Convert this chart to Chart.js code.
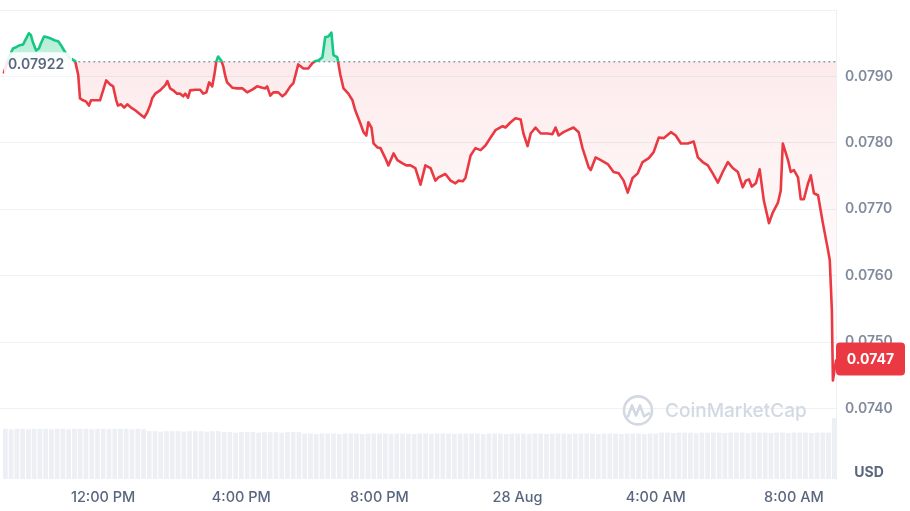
<!DOCTYPE html>
<html><head><meta charset="utf-8">
<script src="https://cdn.jsdelivr.net/npm/chart.js@4.4.0/dist/chart.umd.min.js"></script>
<style>html,body{margin:0;padding:0;background:#fff;}#wrap{width:910px;height:511px;position:relative;}</style>
</head><body><div id="wrap"><canvas id="c"></canvas></div>
<script>
// time in hours since 27 Aug 00:00
const times = [
9.13,9.28,9.39,9.48,9.59,9.68,9.77,9.85,9.91,9.97,
10.06,10.14,10.20,10.29,10.38,10.49,10.61,10.70,10.78,10.87,
11.01,11.19,11.28,11.33,11.42,11.51,11.59,11.65,11.77,11.91,
12.00,12.09,12.20,12.29,12.38,12.43,12.52,12.61,12.70,12.81,
12.93,13.07,13.19,13.28,13.36,13.42,13.51,13.65,13.80,13.86,
13.94,14.03,14.14,14.23,14.32,14.38,14.46,14.52,14.67,14.81,
14.90,14.99,15.07,15.16,15.22,15.28,15.33,15.42,15.48,15.54,
15.59,15.74,15.88,16.03,16.17,16.32,16.46,16.61,16.70,16.75,
16.84,16.93,17.07,17.19,17.28,17.42,17.51,17.65,17.80,17.94,
18.06,18.14,18.23,18.35,18.43,18.52,18.61,18.67,18.78,18.87,
18.96,19.10,19.22,19.30,19.45,19.54,19.62,19.68,19.77,19.83,
19.94,20.03,20.17,20.26,20.41,20.52,20.67,20.78,20.90,21.04,
21.19,21.33,21.48,21.62,21.71,21.91,22.06,22.20,22.29,22.41,
22.49,22.64,22.78,22.93,23.07,23.22,23.36,23.57,23.65,23.80,
23.94,24.09,24.17,24.29,24.38,24.52,24.67,24.87,25.01,25.10,
25.19,25.33,25.45,25.62,25.77,25.88,26.06,26.12,26.26,26.41,
26.61,26.78,26.93,27.07,27.19,27.33,27.48,27.62,27.80,27.94,
28.09,28.23,28.44,28.58,28.73,28.93,29.10,29.22,29.36,29.51,
29.65,29.80,29.94,30.09,30.23,30.38,30.52,30.61,30.70,30.78,
30.90,31.01,31.13,31.28,31.39,31.54,31.62,31.68,31.83,31.91,
32.00,32.12,32.20,32.29,32.41,32.49,32.58,32.70,32.84,32.99,
33.04,33.10,33.13,33.22
];
const prices = [
0.07906,0.07930,0.07942,0.07944,0.07947,0.07948,0.07957,0.07965,0.07962,0.07951,
0.07939,0.07942,0.07950,0.07960,0.07959,0.07957,0.07954,0.07953,0.07947,0.07939,
0.07929,0.07923,0.07902,0.07867,0.07864,0.07862,0.07856,0.07864,0.07864,0.07864,
0.07879,0.07894,0.07888,0.07885,0.07864,0.07856,0.07858,0.07853,0.07858,0.07853,
0.07849,0.07843,0.07838,0.07846,0.07856,0.07867,0.07874,0.07879,0.07887,0.07893,
0.07882,0.07879,0.07874,0.07874,0.07870,0.07874,0.07868,0.07879,0.07880,0.07880,
0.07874,0.07876,0.07891,0.07885,0.07902,0.07923,0.07930,0.07924,0.07915,0.07900,
0.07891,0.07883,0.07882,0.07882,0.07876,0.07880,0.07885,0.07883,0.07882,0.07885,
0.07871,0.07876,0.07876,0.07870,0.07874,0.07885,0.07890,0.07918,0.07912,0.07912,
0.07920,0.07923,0.07924,0.07929,0.07959,0.07960,0.07966,0.07932,0.07929,0.07902,
0.07882,0.07874,0.07864,0.07849,0.07829,0.07816,0.07811,0.07831,0.07823,0.07799,
0.07793,0.07792,0.07777,0.07766,0.07784,0.07774,0.07769,0.07766,0.07766,0.07762,
0.07737,0.07766,0.07762,0.07743,0.07748,0.07753,0.07743,0.07739,0.07743,0.07742,
0.07747,0.07781,0.07792,0.07789,0.07796,0.07808,0.07819,0.07825,0.07823,0.07831,
0.07837,0.07835,0.07814,0.07795,0.07814,0.07823,0.07814,0.07814,0.07813,0.07823,
0.07811,0.07816,0.07819,0.07823,0.07816,0.07792,0.07763,0.07759,0.07778,0.07774,
0.07768,0.07756,0.07754,0.07743,0.07725,0.07747,0.07754,0.07771,0.07777,0.07786,
0.07808,0.07807,0.07816,0.07811,0.07799,0.07799,0.07802,0.07778,0.07771,0.07766,
0.07754,0.07740,0.07756,0.07771,0.07762,0.07756,0.07733,0.07743,0.07745,0.07734,
0.07739,0.07760,0.07713,0.07679,0.07695,0.07710,0.07728,0.07799,0.07774,0.07756,
0.07759,0.07748,0.07715,0.07715,0.07739,0.07751,0.07724,0.07721,0.07679,0.07638,
0.07623,0.07548,0.07442,0.07472
];
const baseline = 0.07922;
// volume bars: one every 10 minutes from 9:10
const volStart = 9.17, volStep = 1/6;
const volumes = [
1.07,1.06,1.07,1.07,1.06,1.07,1.07,1.07,1.06,1.07,1.07,1.06,1.07,1.07,1.07,1.06,1.07,1.07,1.06,1.07,1.07,1.07,1.06,1.07,1.06,
1.02,1.02,1.01,1.02,1.02,1.02,1.01,1.02,1.02,1.02,1.01,1.02,1.02,
1.00,1.00,0.99,1.00,1.00,1.00,0.99,1.00,1.00,1.00,0.99,1.00,1.00,1.00,
0.97,0.97,0.96,0.97,0.97,0.97,0.96,0.97,0.97,0.97,0.96,0.97,0.97,0.97,0.97,0.96,0.97,0.97,0.97,0.96,
0.97,0.97,0.96,0.97,0.97,0.97,0.96,0.97,0.97,0.97,0.97,0.96,0.97,0.97,0.97,0.96,0.97,0.97,0.97,0.96,
0.97,0.97,0.96,0.97,0.97,0.97,0.96,0.97,0.97,0.97,0.97,0.96,0.97,0.97,0.97,0.96,0.97,0.97,0.97,0.96,0.97,0.97,
0.99,0.99,0.98,0.99,0.99,0.99,0.98,0.99,0.99,0.99,0.99,0.98,0.99,0.99,0.99,0.98,0.99,0.99,0.99,0.98,
0.99,0.99,0.98,0.99,0.99,0.99,0.98,0.99,0.99,0.99,
1.30
];
const xTickHours = [12,16,20,24,28,32];
const xTickLabels = ['12:00 PM','4:00 PM','8:00 PM','28 Aug','4:00 AM','8:00 AM'];
const yTickValues = [0.0740,0.0750,0.0760,0.0770,0.0780,0.0790,0.0800];

const RED = '#ea3943', GREEN = '#16c784';
const FONT = 'Inter, "Noto Sans", sans-serif';

function splitStop(chart){
  const a = chart.chartArea;
  const y = chart.scales.y.getPixelForValue(baseline);
  return Math.min(1, Math.max(0, (y - a.top) / (a.bottom - a.top)));
}
function lineGrad(chart){
  const a = chart.chartArea; if (!a) return RED;
  const s = splitStop(chart);
  const g = chart.ctx.createLinearGradient(0, a.top, 0, a.bottom);
  g.addColorStop(0, GREEN); g.addColorStop(s, GREEN);
  g.addColorStop(s, RED); g.addColorStop(1, RED);
  return g;
}
function fillGrad(chart){
  const a = chart.chartArea; if (!a) return 'rgba(234,57,67,0.08)';
  const s = splitStop(chart);
  const g = chart.ctx.createLinearGradient(0, a.top, 0, a.bottom);
  g.addColorStop(0, 'rgba(22,199,132,0.40)');
  g.addColorStop(s, 'rgba(22,199,132,0.24)');
  g.addColorStop(s, 'rgba(234,57,67,0.10)');
  g.addColorStop(Math.min(1, s + 0.35), 'rgba(234,57,67,0.04)');
  g.addColorStop(1, 'rgba(234,57,67,0.0)');
  return g;
}

const decor = {
  id: 'decor',
  beforeDatasetsDraw(chart){
    const {ctx, chartArea:a, scales} = chart;
    const y = scales.y.getPixelForValue(baseline);
    ctx.save();
    ctx.strokeStyle = '#8c96a8';
    ctx.lineWidth = 1.6;
    ctx.lineCap = 'round';
    ctx.setLineDash([0.6, 4.4]);
    ctx.beginPath(); ctx.moveTo(a.left + 74, y); ctx.lineTo(a.right, y); ctx.stroke();
    ctx.restore();
  },
  afterDatasetsDraw(chart){
    const {ctx, chartArea:a, scales} = chart;
    const y = scales.y.getPixelForValue(baseline);
    ctx.save();
    // baseline label
    ctx.fillStyle = 'rgba(255,255,255,0.88)';
    ctx.fillRect(a.left + 4, y - 9.5, 68, 24);
    ctx.fillStyle = '#58667e';
    ctx.font = '600 14px ' + FONT;
    ctx.textAlign = 'left'; ctx.textBaseline = 'middle';
    ctx.fillText(baseline.toFixed(5), a.left + 8, y + 3);
    // watermark
    const wy = scales.y.getPixelForValue(0.0740) + 2;
    ctx.strokeStyle = '#d3d9e3'; ctx.lineWidth = 2.6; ctx.lineJoin = 'round'; ctx.lineCap = 'round';
    ctx.beginPath(); ctx.arc(638, wy, 14, 0, Math.PI * 2); ctx.stroke();
    ctx.beginPath();
    ctx.moveTo(628, wy + 6); ctx.lineTo(632, wy - 5); ctx.lineTo(636, wy + 5);
    ctx.lineTo(640, wy - 5); ctx.lineTo(644, wy + 6); ctx.lineTo(649, wy + 3);
    ctx.stroke();
    ctx.fillStyle = '#d3d9e3';
    ctx.font = '500 19px ' + FONT;
    ctx.fillText('CoinMarketCap', 665, wy + 1);
    ctx.restore();
  },
  afterDraw(chart){
    const {ctx, chartArea:a, scales} = chart;
    const last = prices[prices.length - 1];
    const yp = scales.y.getPixelForValue(last);
    ctx.save();
    ctx.fillStyle = RED;
    ctx.beginPath();
    ctx.roundRect(a.right, yp - 18, 69, 33, 4);
    ctx.fill();
    ctx.fillStyle = '#ffffff';
    ctx.font = '700 14px ' + FONT;
    ctx.textAlign = 'center'; ctx.textBaseline = 'middle';
    ctx.fillText(last.toFixed(4), a.right + 34.5, yp - 1);
    ctx.fillStyle = '#58667e';
    ctx.font = '700 14px ' + FONT;
    ctx.fillText('USD', a.right + 33, 473);
    ctx.restore();
  }
};

new Chart(document.getElementById('c'), {
  type: 'line',
  data: {
    datasets: [
      {
        type: 'line',
        data: times.map((t, i) => ({x: t, y: prices[i]})),
        yAxisID: 'y',
        borderWidth: 2.6,
        pointRadius: 0,
        tension: 0,
        borderJoinStyle: 'round',
        borderCapStyle: 'round',
        borderColor: ctx => lineGrad(ctx.chart),
        backgroundColor: ctx => fillGrad(ctx.chart),
        fill: {target: {value: baseline}},
        order: 0
      },
      {
        type: 'bar',
        data: volumes.map((v, i) => ({x: volStart + i * volStep, y: v})),
        yAxisID: 'y2',
        backgroundColor: 'rgba(224,229,236,0.62)',
        borderWidth: 0,
        barPercentage: 0.82,
        categoryPercentage: 1,
        order: 1
      }
    ]
  },
  options: {
    responsive: true,
    maintainAspectRatio: false,
    animation: false,
    layout: {padding: {top: 10, left: 0, right: 0, bottom: 0}},
    plugins: {legend: {display: false}, tooltip: {enabled: false}},
    scales: {
      x: {
        type: 'linear', min: 9.0145, max: 33.22, offset: false,
        grid: {display: false, drawTicks: false},
        border: {display: false},
        afterBuildTicks: s => { s.ticks = xTickHours.map(v => ({value: v})); },
        afterFit: s => { s.height = 32; s.paddingLeft = 0; s.paddingRight = 0; },
        ticks: {
          autoSkip: false, maxRotation: 0, padding: 10, color: '#58667e',
          font: {family: FONT, size: 14.5, weight: '500'},
          callback: (v, i) => xTickLabels[i]
        }
      },
      y: {
        position: 'right', min: 0.072937, max: 0.0800,
        grid: {color: '#eff2f5', drawTicks: false, lineWidth: 1},
        border: {display: true, color: '#eceff3'},
        afterBuildTicks: s => { s.ticks = yTickValues.map(v => ({value: v})); },
        afterFit: s => { s.width = 74; s.paddingTop = 0; s.paddingBottom = 0; },
        ticks: {
          padding: 9, color: '#808a9d',
          font: {family: FONT, size: 14, weight: '600'},
          callback: (v, i) => (i === yTickValues.length - 1 ? '' : yTickValues[i].toFixed(4))
        }
      },
      y2: {display: false, min: 0, max: 10}
    }
  },
  plugins: [decor]
});
</script></body></html>
